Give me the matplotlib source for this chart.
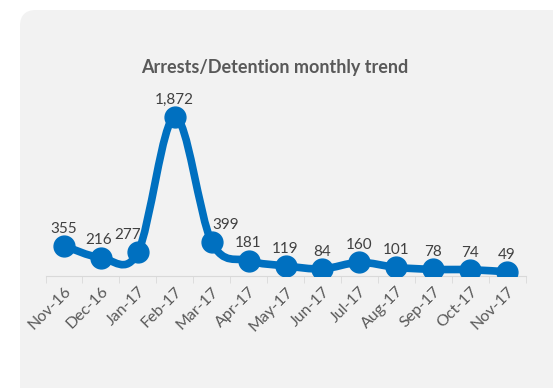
import matplotlib.pyplot as plt
import numpy as np
from matplotlib.patches import FancyBboxPatch, PathPatch
from matplotlib.path import Path

plt.rcParams['font.family'] = ['Lato', 'DejaVu Sans']

months = ["Nov-16", "Dec-16", "Jan-17", "Feb-17", "Mar-17", "Apr-17", "May-17",
          "Jun-17", "Jul-17", "Aug-17", "Sep-17", "Oct-17", "Nov-17"]
arrests = [355, 216, 277, 1872, 399, 181, 119, 84, 160, 101, 78, 74, 49]

blue = "#0070C0"

fig = plt.figure(figsize=(5.53, 3.88), dpi=100)

# grey rounded card behind the chart
card = FancyBboxPatch((20, -20), 560, 398, boxstyle="round,pad=0,rounding_size=16",
                      transform=None, facecolor="#f2f2f2", edgecolor="none", zorder=0)
fig.add_artist(card)

ax = fig.add_axes([0.0823, 0.2887, 0.8680, 0.4380])
ax.set_facecolor("none")

x = np.arange(len(arrests))
y = np.array(arrests, dtype=float)

# smoothed line like excel (catmull-rom as bezier segments)
verts = [(x[0], y[0])]
codes = [Path.MOVETO]
n = len(x)
for i in range(n - 1):
    p0 = np.array([x[max(i - 1, 0)], y[max(i - 1, 0)]])
    p1 = np.array([x[i], y[i]])
    p2 = np.array([x[i + 1], y[i + 1]])
    p3 = np.array([x[min(i + 2, n - 1)], y[min(i + 2, n - 1)]])
    c1 = p1 + (p2 - p0) / 6
    c2 = p2 - (p3 - p1) / 6
    verts += [tuple(c1), tuple(c2), tuple(p2)]
    codes += [Path.CURVE4] * 3
ax.add_patch(PathPatch(Path(verts, codes), facecolor="none", edgecolor=blue,
                       lw=5.5, capstyle="round", joinstyle="round", zorder=3))
ax.plot(x, y, linestyle="none", marker="o", markersize=15, color=blue, zorder=4)

# data labels
nudge = {1: -2, 2: -7, 4: 10}
for i, v in enumerate(arrests):
    ax.annotate(f"{v:,}", (x[i], y[i]), xytext=(nudge.get(i, 0), 9.5),
                textcoords="offset points", ha="center", va="baseline",
                fontsize=11, color="#404040", zorder=5)

ax.set_xlim(-0.5, 12.5)
ax.set_ylim(0, 2000)
ax.set_xticks(x)
ax.set_xticklabels(months, rotation=45, ha="right", rotation_mode="anchor",
                   fontsize=11.5, color="#595959")
ax.set_xticks(np.arange(-0.5, 13, 1), minor=True)
ax.tick_params(axis="x", which="major", length=0, pad=6)
ax.tick_params(axis="x", which="minor", length=5, color="#d9d9d9")
ax.set_yticks([])
for s in ["top", "right", "left"]:
    ax.spines[s].set_visible(False)
ax.spines["bottom"].set_color("#d9d9d9")

fig.text(0.497, 0.825, "Arrests/Detention monthly trend", ha="center", va="center",
         fontsize=13, fontweight="bold", color="#595959")

fig.savefig("out.png", dpi=100)
